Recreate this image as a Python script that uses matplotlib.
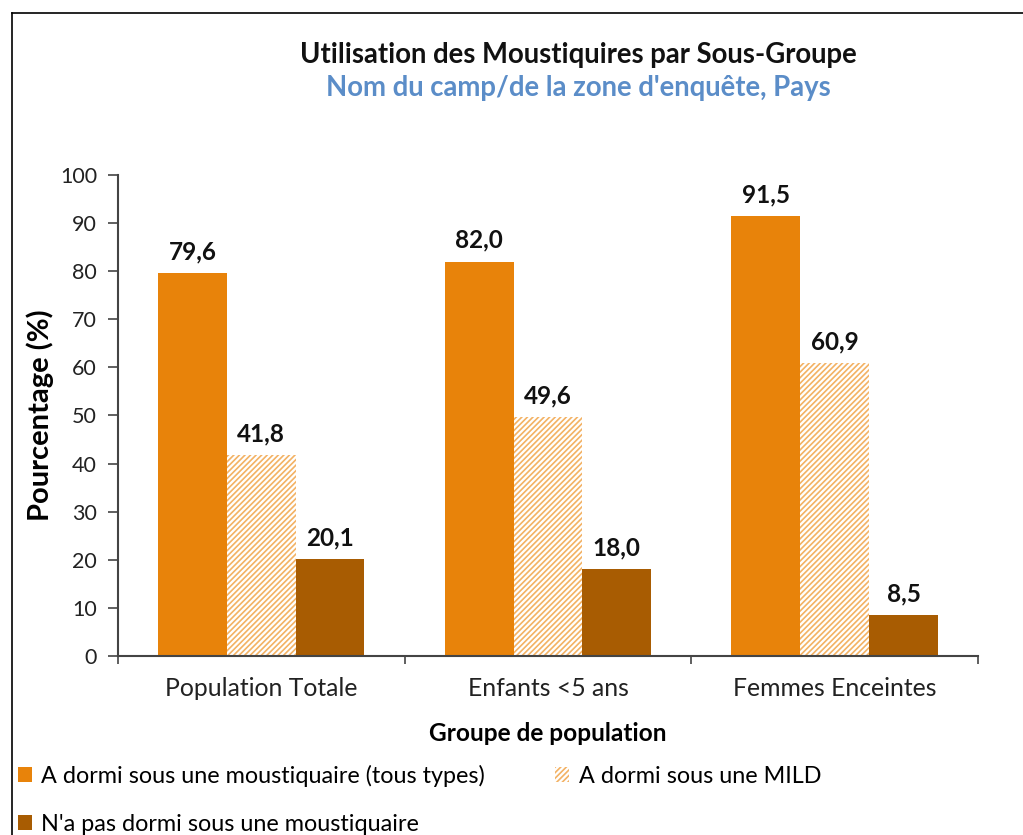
import numpy as np
import matplotlib
matplotlib.use("Agg")
import matplotlib.pyplot as plt
from matplotlib.lines import Line2D

plt.rcParams['font.family'] = ['Lato', 'DejaVu Sans']
plt.rcParams['hatch.linewidth'] = 1.2

groups = ["Population Totale", "Enfants <5 ans", "Femmes Enceintes"]
tous_types = [79.6, 82.0, 91.5]
mild = [41.8, 49.6, 60.9]
pas_dormi = [20.1, 18.0, 8.5]
series_names = ["A dormi sous une moustiquaire (tous types)",
                "A dormi sous une MILD",
                "N'a pas dormi sous une moustiquaire"]

orange = "#E8830A"
hatch_col = "#F3B264"
dark = "#A85C02"

fig = plt.figure(figsize=(10.23, 8.35), dpi=100)
ax = fig.add_axes([0.1153, 0.2144, 0.8407, 0.5760])

x = np.arange(len(groups))
w = 0.24
b1 = ax.bar(x - w, tous_types, w, color=orange, linewidth=0)
b2 = ax.bar(x, mild, w, facecolor="white", edgecolor=hatch_col, hatch="//////", linewidth=0)
b3 = ax.bar(x + w, pas_dormi, w, color=dark, linewidth=0)

for bars in (b1, b2, b3):
    for r in bars:
        h = r.get_height()
        ax.annotate(f"{h:.1f}".replace(".", ","), (r.get_x() + r.get_width() / 2, h),
                    xytext=(0, 7), textcoords="offset points", ha="center", va="bottom",
                    fontsize=17.5, fontweight="bold", color="#111111")

ax.set_xlim(-0.5, 2.5)
ax.set_ylim(0, 100)
ax.set_yticks(range(0, 101, 10))
ax.set_xticks([-0.5, 0.5, 1.5, 2.5])
ax.set_xticklabels([])
ax.set_xticks(x, minor=True)
ax.set_xticklabels(groups, minor=True, fontsize=17.8, color="#222222")
ax.tick_params(axis="x", which="minor", length=0, pad=15)
ax.tick_params(axis="x", which="major", direction="out", length=6, width=1.2, color="#444444")
ax.tick_params(axis="y", direction="out", length=7, width=1.2, color="#444444",
               labelsize=15.5, labelcolor="#222222", pad=8)

for s in ("top", "right"):
    ax.spines[s].set_visible(False)
for s in ("left", "bottom"):
    ax.spines[s].set_linewidth(1.5)
    ax.spines[s].set_color("#444444")

ax.set_ylabel("Pourcentage (%)", fontsize=21, fontweight="bold", labelpad=4)
ax.set_xlabel("Groupe de population", fontsize=17.6, fontweight="bold", labelpad=16)

fig.text(0.565, 0.934, "Utilisation des Moustiquires par Sous-Groupe",
         ha="center", va="center", fontsize=19.8, fontweight="bold", color="#111111")
fig.text(0.565, 0.895, "Nom du camp/de la zone d'enquête, Pays",
         ha="center", va="center", fontsize=19.8, fontweight="bold", color="#5B8DC8")

handles = [b1[0], b3[0], b2[0]]
labels = [series_names[0], series_names[2], series_names[1]]
fig.legend(handles, labels, loc="upper left", bbox_to_anchor=(0.004, 0.101), ncol=2,
           frameon=False, fontsize=16.8, handlelength=0.6, handleheight=0.6,
           handletextpad=0.4, columnspacing=3.0, labelspacing=1.15,
           borderaxespad=0.2)

fig.add_artist(Line2D([12 / 1023, 12 / 1023], [0, 1 - 13 / 835], color="black", lw=1.2))
fig.add_artist(Line2D([12 / 1023, 1], [1 - 13 / 835, 1 - 13 / 835], color="black", lw=1.2))

fig.savefig("out.png", dpi=100)
